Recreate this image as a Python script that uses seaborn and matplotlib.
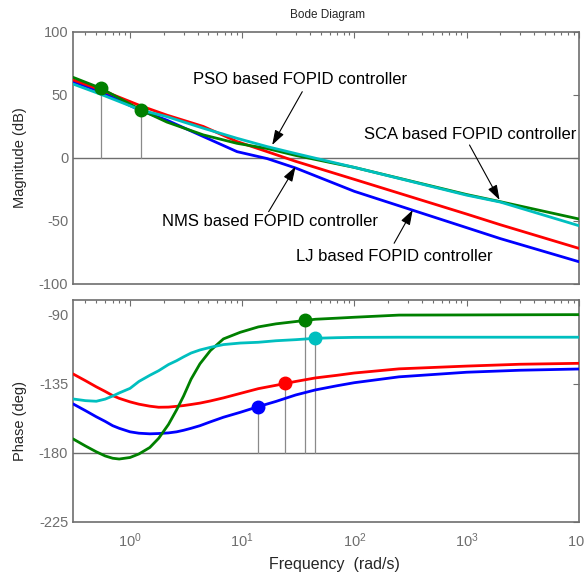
import numpy as np
import pandas as pd
import matplotlib
matplotlib.use("Agg")
import matplotlib.pyplot as plt
import seaborn as sns
from matplotlib.ticker import LogLocator, NullFormatter

# ---- data ----
controllers = ["LJ", "NMS", "SCA", "PSO"]
colors = {"LJ": "#0000ff", "NMS": "#ff0000", "SCA": "#008000", "PSO": "#00bfbf"}

w_mag = [0.31, 0.55, 1.25, 2.13, 4.5, 9, 16.7, 30, 100, 1000, 2000, 10000]
mag_lj = [60.6, 52.5, 37.5, 30.0, 17.0, 5.0, -0.5, -8.0, -26.5, -55.3, -64.0, -82.3]
mag_nms = [62.0, 54.0, 41.3, 34.0, 25.0, 13.0, 5.0, -2.7, -17.0, -44.5, -53.0, -71.7]
mag_sca = [64.0, 55.3, 38.1, 28.5, 18.3, 11.6, 7.5, 2.0, -7.5, -29.0, -34.7, -48.4]
mag_pso = [58.7, 50.5, 38.0, 32.8, 23.6, 15.6, 9.0, 3.5, -7.5, -29.5, -35.0, -53.7]

w_ph = [0.31, 0.4, 0.5, 0.6, 0.7, 0.8, 1.0, 1.2, 1.5, 1.8, 2.2, 2.6, 3.0, 3.5,
        4.2, 5.2, 6.8, 9.6, 13.9, 20, 30, 45, 70, 100, 250, 1000, 3000, 10000]
ph_lj = [-148.1, -152.5, -156.5, -159.5, -162.3, -164.0, -166.3, -167.2, -167.6,
         -167.4, -167.0, -166.3, -165.3, -164.0, -162.3, -159.8, -156.8, -153.6,
         -149.9, -146.5, -142.3, -139.0, -136.3, -134.3, -130.5, -127.5, -126.2, -125.4]
ph_nms = [-128.6, -133.0, -137.0, -140.0, -142.7, -144.5, -146.8, -148.3, -149.6,
          -150.3, -150.2, -149.7, -149.2, -148.5, -147.6, -146.2, -144.2, -141.3,
          -138.2, -136.0, -133.5, -131.2, -129.5, -128.0, -125.3, -123.5, -122.3, -121.7]
ph_sca = [-170.9, -175.5, -179.3, -182.0, -183.5, -184.0, -183.0, -180.7, -176.5,
          -170.5, -161.5, -152.0, -143.0, -132.0, -122.0, -113.4, -105.8, -101.5,
          -98.0, -96.0, -94.5, -93.0, -92.3, -91.7, -90.3, -90.2, -90.1, -90.0]
ph_pso = [-144.9, -146.0, -146.4, -145.0, -143.0, -141.0, -138.0, -133.5, -129.5,
          -126.5, -122.5, -120.0, -117.5, -115.0, -113.0, -111.3, -109.5, -108.5,
          -108.0, -107.0, -106.3, -105.4, -105.0, -104.8, -104.7, -104.7, -104.7, -104.7]

# gain margin points (SCA) and phase margin points
gm_w = [0.55, 1.25]
gm_db = [55.3, 38.1]
pm_w = {"LJ": 13.9, "NMS": 24.3, "SCA": 36.2, "PSO": 44.5}
pm_deg = {"LJ": -149.9, "NMS": -134.7, "SCA": -93.5, "PSO": -105.4}

mag = pd.DataFrame({"w": w_mag, "LJ": mag_lj, "NMS": mag_nms, "SCA": mag_sca, "PSO": mag_pso})
ph = pd.DataFrame({"w": w_ph, "LJ": ph_lj, "NMS": ph_nms, "SCA": ph_sca, "PSO": ph_pso})

sns.set_style("white")
plt.rcParams["font.family"] = ["Liberation Sans", "DejaVu Sans"]
plt.rcParams["mathtext.default"] = "regular"
plt.rcParams["axes.unicode_minus"] = False

gray = "#6e6e6e"
fig = plt.figure(figsize=(5.84, 5.78), dpi=100)
ax1 = fig.add_axes([0.125, 0.5087, 0.866, 0.436])
ax2 = fig.add_axes([0.125, 0.0969, 0.866, 0.384])

ax1.axhline(0, color=gray, lw=1, zorder=1)
ax2.axhline(-180, color=gray, lw=1, zorder=1)

for name in controllers:
    sns.lineplot(data=mag, x="w", y=name, ax=ax1, color=colors[name], lw=2, zorder=3)
    sns.lineplot(data=ph, x="w", y=name, ax=ax2, color=colors[name], lw=2, zorder=3)

# gain margin markers
for w, db in zip(gm_w, gm_db):
    ax1.plot([w, w], [0, db], color="#8a8a8a", lw=0.9, zorder=2)
ax1.plot(gm_w, gm_db, "o", color=colors["SCA"], ms=9, zorder=4)

# phase margin markers
for name in controllers:
    ax2.plot([pm_w[name]] * 2, [-180, pm_deg[name]], color="#8a8a8a", lw=0.9, zorder=2)
    ax2.plot(pm_w[name], pm_deg[name], "o", color=colors[name], ms=9, zorder=4)

for ax in (ax1, ax2):
    ax.set_xscale("log")
    ax.set_xlim(0.31, 1e4)
    ax.set_xlabel("")
    ax.set_ylabel("")
    ax.xaxis.set_major_locator(LogLocator(base=10, numticks=10))
    ax.xaxis.set_minor_locator(LogLocator(base=10, subs=np.arange(2, 10), numticks=10))
    ax.xaxis.set_minor_formatter(NullFormatter())
    ax.tick_params(which="both", direction="in", top=True, right=True,
                   colors=gray, labelsize=10.5, width=0.8)
    ax.tick_params(which="major", length=4)
    ax.tick_params(which="minor", length=2)
    for s in ax.spines.values():
        s.set_color(gray)
        s.set_linewidth(1.2)

ax1.set_ylim(-100, 100)
ax1.set_yticks([-100, -50, 0, 50, 100])
ax1.tick_params(labelbottom=False)
ax2.set_ylim(-225, -80.5)
ax2.set_yticks([-225, -180, -135, -90])
ax2.tick_params(axis="x", pad=7)

# annotations
txt_kw = dict(fontsize=12, va="center", ha="left", color="k")
arr = dict(arrowstyle="-|>,head_length=0.9,head_width=0.3", color="k", lw=0.8,
           shrinkA=0, shrinkB=0)
ax1.text(3.64, 61.9, "PSO based FOPID controller", **txt_kw)
ax1.annotate("", xy=(18.5, 10.3), xytext=(34.3, 52.6), arrowprops=arr)
ax1.text(122, 18.3, "SCA based FOPID controller", **txt_kw)
ax1.annotate("", xy=(1968, -33.3), xytext=(1062, 10.3), arrowprops=arr)
ax1.text(1.92, -50.6, "NMS based FOPID controller", **txt_kw)
ax1.annotate("", xy=(29.9, -6.9), xytext=(17.2, -42.6), arrowprops=arr)
ax1.text(30.4, -78.3, "LJ based FOPID controller", **txt_kw)
ax1.annotate("", xy=(331, -41.3), xytext=(226, -67.7), arrowprops=arr)

fig.text(0.5616, 0.974, "Bode Diagram", ha="center", va="center", fontsize=8.5)
fig.text(0.572, 0.0225, "Frequency  (rad/s)", ha="center", va="center", fontsize=11.5)
fig.text(0.034, 0.727, "Magnitude (dB)", rotation=90, ha="center", va="center", fontsize=10.5)
fig.text(0.034, 0.272, "Phase (deg)", rotation=90, ha="center", va="center", fontsize=10.5)

fig.savefig("out.png", dpi=100)
